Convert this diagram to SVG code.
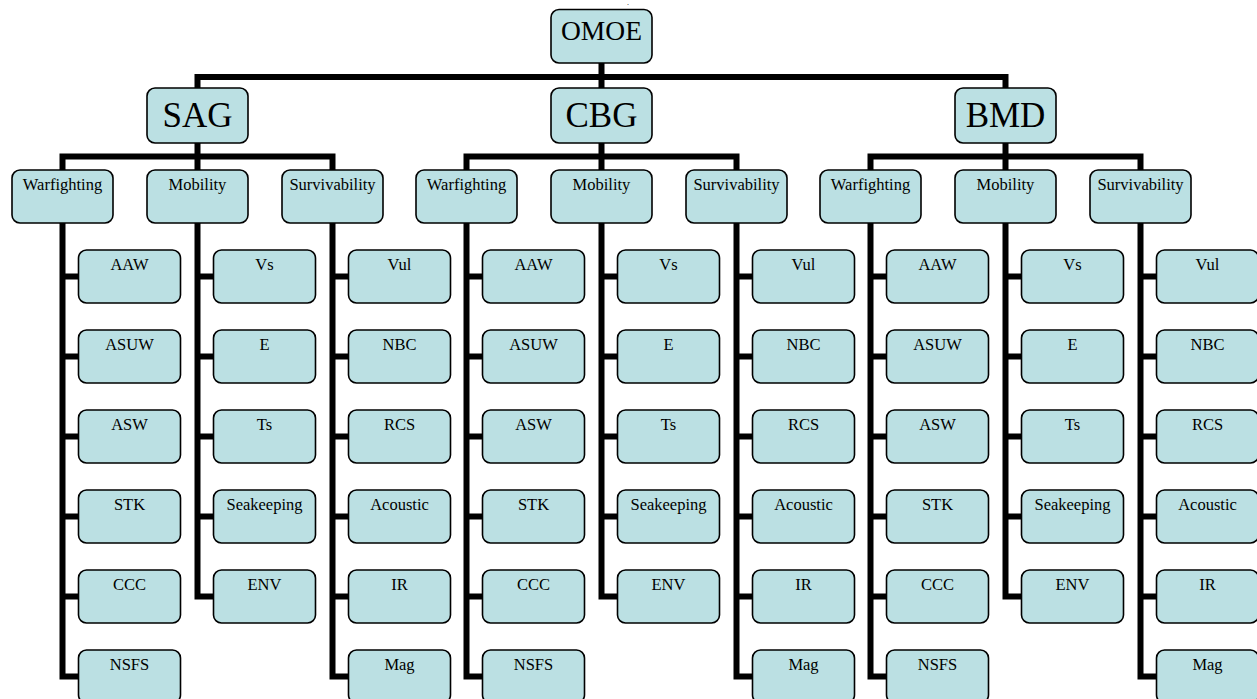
<svg xmlns="http://www.w3.org/2000/svg" width="1257" height="699" viewBox="0 0 1257 699">
<style>
.box{fill:#BBE0E3;stroke:#000;stroke-width:1.6}
.conn{fill:none;stroke:#000;stroke-width:6;stroke-linejoin:miter;stroke-linecap:butt}
text{font-family:"Liberation Serif","Times New Roman",serif;fill:#000;text-anchor:middle}
.t0{font-size:27.5px}
.t1{font-size:35px}
.t2{font-size:16.5px}
</style>
<rect width="1257" height="699" fill="#fff"/>
<text x="628" y="4.5" style="font-size:8px">.</text>
<g id="connectors" class="conn">
<path d="M601.5 63 V88 M197.5 88 V77 H1005.5 V88"/>
<path d="M197.5 143 V170 M62.5 170 V156.5 H332.5 V170"/>
<path d="M601.5 143 V170 M466.5 170 V156.5 H736.5 V170"/>
<path d="M1005.5 143 V170 M870.5 170 V156.5 H1140.5 V170"/>
<path d="M62.5 223 V676.5 H78.5 M62.5 276.5 H78.5 M62.5 356.5 H78.5 M62.5 436.5 H78.5 M62.5 516.5 H78.5 M62.5 596.5 H78.5"/>
<path d="M197.5 223 V596.5 H213.5 M197.5 276.5 H213.5 M197.5 356.5 H213.5 M197.5 436.5 H213.5 M197.5 516.5 H213.5"/>
<path d="M332.5 223 V676.5 H348.5 M332.5 276.5 H348.5 M332.5 356.5 H348.5 M332.5 436.5 H348.5 M332.5 516.5 H348.5 M332.5 596.5 H348.5"/>
<path d="M466.5 223 V676.5 H482.5 M466.5 276.5 H482.5 M466.5 356.5 H482.5 M466.5 436.5 H482.5 M466.5 516.5 H482.5 M466.5 596.5 H482.5"/>
<path d="M601.5 223 V596.5 H617.5 M601.5 276.5 H617.5 M601.5 356.5 H617.5 M601.5 436.5 H617.5 M601.5 516.5 H617.5"/>
<path d="M736.5 223 V676.5 H752.5 M736.5 276.5 H752.5 M736.5 356.5 H752.5 M736.5 436.5 H752.5 M736.5 516.5 H752.5 M736.5 596.5 H752.5"/>
<path d="M870.5 223 V676.5 H886.5 M870.5 276.5 H886.5 M870.5 356.5 H886.5 M870.5 436.5 H886.5 M870.5 516.5 H886.5 M870.5 596.5 H886.5"/>
<path d="M1005.5 223 V596.5 H1021.5 M1005.5 276.5 H1021.5 M1005.5 356.5 H1021.5 M1005.5 436.5 H1021.5 M1005.5 516.5 H1021.5"/>
<path d="M1140.5 223 V676.5 H1156.5 M1140.5 276.5 H1156.5 M1140.5 356.5 H1156.5 M1140.5 436.5 H1156.5 M1140.5 516.5 H1156.5 M1140.5 596.5 H1156.5"/>
</g>
<g id="omoe"><rect class="box" x="551" y="9.5" width="101" height="53.5" rx="8"/><text class="t0" x="601.5" y="40">OMOE</text></g>
<g id="sag"><rect class="box" x="147" y="88" width="101" height="55" rx="8"/><text class="t1" x="197.5" y="127">SAG</text></g>
<g id="cbg"><rect class="box" x="551" y="88" width="101" height="55" rx="8"/><text class="t1" x="601.5" y="127">CBG</text></g>
<g id="bmd"><rect class="box" x="955" y="88" width="101" height="55" rx="8"/><text class="t1" x="1005.5" y="127">BMD</text></g>

<g id="sag-warfighting"><rect class="box" x="12" y="170" width="101" height="53" rx="8"/><text class="t2" x="62.5" y="190">Warfighting</text></g>
<g id="sag-mobility"><rect class="box" x="147" y="170" width="101" height="53" rx="8"/><text class="t2" x="197.5" y="190">Mobility</text></g>
<g id="sag-survivability"><rect class="box" x="282" y="170" width="101" height="53" rx="8"/><text class="t2" x="332.5" y="190">Survivability</text></g>
<g id="cbg-warfighting"><rect class="box" x="416" y="170" width="101" height="53" rx="8"/><text class="t2" x="466.5" y="190">Warfighting</text></g>
<g id="cbg-mobility"><rect class="box" x="551" y="170" width="101" height="53" rx="8"/><text class="t2" x="601.5" y="190">Mobility</text></g>
<g id="cbg-survivability"><rect class="box" x="686" y="170" width="101" height="53" rx="8"/><text class="t2" x="736.5" y="190">Survivability</text></g>
<g id="bmd-warfighting"><rect class="box" x="820" y="170" width="101" height="53" rx="8"/><text class="t2" x="870.5" y="190">Warfighting</text></g>
<g id="bmd-mobility"><rect class="box" x="955" y="170" width="101" height="53" rx="8"/><text class="t2" x="1005.5" y="190">Mobility</text></g>
<g id="bmd-survivability"><rect class="box" x="1090" y="170" width="101" height="53" rx="8"/><text class="t2" x="1140.5" y="190">Survivability</text></g>

<g id="sag-aaw"><rect class="box" x="78.5" y="250" width="102" height="53" rx="8"/><text class="t2" x="129.5" y="270">AAW</text></g>
<g id="sag-asuw"><rect class="box" x="78.5" y="330" width="102" height="53" rx="8"/><text class="t2" x="129.5" y="350">ASUW</text></g>
<g id="sag-asw"><rect class="box" x="78.5" y="410" width="102" height="53" rx="8"/><text class="t2" x="129.5" y="430">ASW</text></g>
<g id="sag-stk"><rect class="box" x="78.5" y="490" width="102" height="53" rx="8"/><text class="t2" x="129.5" y="510">STK</text></g>
<g id="sag-ccc"><rect class="box" x="78.5" y="570" width="102" height="53" rx="8"/><text class="t2" x="129.5" y="590">CCC</text></g>
<g id="sag-nsfs"><rect class="box" x="78.5" y="650" width="102" height="53" rx="8"/><text class="t2" x="129.5" y="670">NSFS</text></g>
<g id="sag-vs"><rect class="box" x="213.5" y="250" width="102" height="53" rx="8"/><text class="t2" x="264.5" y="270">Vs</text></g>
<g id="sag-e"><rect class="box" x="213.5" y="330" width="102" height="53" rx="8"/><text class="t2" x="264.5" y="350">E</text></g>
<g id="sag-ts"><rect class="box" x="213.5" y="410" width="102" height="53" rx="8"/><text class="t2" x="264.5" y="430">Ts</text></g>
<g id="sag-seakeeping"><rect class="box" x="213.5" y="490" width="102" height="53" rx="8"/><text class="t2" x="264.5" y="510">Seakeeping</text></g>
<g id="sag-env"><rect class="box" x="213.5" y="570" width="102" height="53" rx="8"/><text class="t2" x="264.5" y="590">ENV</text></g>
<g id="sag-vul"><rect class="box" x="348.5" y="250" width="102" height="53" rx="8"/><text class="t2" x="399.5" y="270">Vul</text></g>
<g id="sag-nbc"><rect class="box" x="348.5" y="330" width="102" height="53" rx="8"/><text class="t2" x="399.5" y="350">NBC</text></g>
<g id="sag-rcs"><rect class="box" x="348.5" y="410" width="102" height="53" rx="8"/><text class="t2" x="399.5" y="430">RCS</text></g>
<g id="sag-acoustic"><rect class="box" x="348.5" y="490" width="102" height="53" rx="8"/><text class="t2" x="399.5" y="510">Acoustic</text></g>
<g id="sag-ir"><rect class="box" x="348.5" y="570" width="102" height="53" rx="8"/><text class="t2" x="399.5" y="590">IR</text></g>
<g id="sag-mag"><rect class="box" x="348.5" y="650" width="102" height="53" rx="8"/><text class="t2" x="399.5" y="670">Mag</text></g>

<g id="cbg-aaw"><rect class="box" x="482.5" y="250" width="102" height="53" rx="8"/><text class="t2" x="533.5" y="270">AAW</text></g>
<g id="cbg-asuw"><rect class="box" x="482.5" y="330" width="102" height="53" rx="8"/><text class="t2" x="533.5" y="350">ASUW</text></g>
<g id="cbg-asw"><rect class="box" x="482.5" y="410" width="102" height="53" rx="8"/><text class="t2" x="533.5" y="430">ASW</text></g>
<g id="cbg-stk"><rect class="box" x="482.5" y="490" width="102" height="53" rx="8"/><text class="t2" x="533.5" y="510">STK</text></g>
<g id="cbg-ccc"><rect class="box" x="482.5" y="570" width="102" height="53" rx="8"/><text class="t2" x="533.5" y="590">CCC</text></g>
<g id="cbg-nsfs"><rect class="box" x="482.5" y="650" width="102" height="53" rx="8"/><text class="t2" x="533.5" y="670">NSFS</text></g>
<g id="cbg-vs"><rect class="box" x="617.5" y="250" width="102" height="53" rx="8"/><text class="t2" x="668.5" y="270">Vs</text></g>
<g id="cbg-e"><rect class="box" x="617.5" y="330" width="102" height="53" rx="8"/><text class="t2" x="668.5" y="350">E</text></g>
<g id="cbg-ts"><rect class="box" x="617.5" y="410" width="102" height="53" rx="8"/><text class="t2" x="668.5" y="430">Ts</text></g>
<g id="cbg-seakeeping"><rect class="box" x="617.5" y="490" width="102" height="53" rx="8"/><text class="t2" x="668.5" y="510">Seakeeping</text></g>
<g id="cbg-env"><rect class="box" x="617.5" y="570" width="102" height="53" rx="8"/><text class="t2" x="668.5" y="590">ENV</text></g>
<g id="cbg-vul"><rect class="box" x="752.5" y="250" width="102" height="53" rx="8"/><text class="t2" x="803.5" y="270">Vul</text></g>
<g id="cbg-nbc"><rect class="box" x="752.5" y="330" width="102" height="53" rx="8"/><text class="t2" x="803.5" y="350">NBC</text></g>
<g id="cbg-rcs"><rect class="box" x="752.5" y="410" width="102" height="53" rx="8"/><text class="t2" x="803.5" y="430">RCS</text></g>
<g id="cbg-acoustic"><rect class="box" x="752.5" y="490" width="102" height="53" rx="8"/><text class="t2" x="803.5" y="510">Acoustic</text></g>
<g id="cbg-ir"><rect class="box" x="752.5" y="570" width="102" height="53" rx="8"/><text class="t2" x="803.5" y="590">IR</text></g>
<g id="cbg-mag"><rect class="box" x="752.5" y="650" width="102" height="53" rx="8"/><text class="t2" x="803.5" y="670">Mag</text></g>

<g id="bmd-aaw"><rect class="box" x="886.5" y="250" width="102" height="53" rx="8"/><text class="t2" x="937.5" y="270">AAW</text></g>
<g id="bmd-asuw"><rect class="box" x="886.5" y="330" width="102" height="53" rx="8"/><text class="t2" x="937.5" y="350">ASUW</text></g>
<g id="bmd-asw"><rect class="box" x="886.5" y="410" width="102" height="53" rx="8"/><text class="t2" x="937.5" y="430">ASW</text></g>
<g id="bmd-stk"><rect class="box" x="886.5" y="490" width="102" height="53" rx="8"/><text class="t2" x="937.5" y="510">STK</text></g>
<g id="bmd-ccc"><rect class="box" x="886.5" y="570" width="102" height="53" rx="8"/><text class="t2" x="937.5" y="590">CCC</text></g>
<g id="bmd-nsfs"><rect class="box" x="886.5" y="650" width="102" height="53" rx="8"/><text class="t2" x="937.5" y="670">NSFS</text></g>
<g id="bmd-vs"><rect class="box" x="1021.5" y="250" width="102" height="53" rx="8"/><text class="t2" x="1072.5" y="270">Vs</text></g>
<g id="bmd-e"><rect class="box" x="1021.5" y="330" width="102" height="53" rx="8"/><text class="t2" x="1072.5" y="350">E</text></g>
<g id="bmd-ts"><rect class="box" x="1021.5" y="410" width="102" height="53" rx="8"/><text class="t2" x="1072.5" y="430">Ts</text></g>
<g id="bmd-seakeeping"><rect class="box" x="1021.5" y="490" width="102" height="53" rx="8"/><text class="t2" x="1072.5" y="510">Seakeeping</text></g>
<g id="bmd-env"><rect class="box" x="1021.5" y="570" width="102" height="53" rx="8"/><text class="t2" x="1072.5" y="590">ENV</text></g>
<g id="bmd-vul"><rect class="box" x="1156.5" y="250" width="102" height="53" rx="8"/><text class="t2" x="1207.5" y="270">Vul</text></g>
<g id="bmd-nbc"><rect class="box" x="1156.5" y="330" width="102" height="53" rx="8"/><text class="t2" x="1207.5" y="350">NBC</text></g>
<g id="bmd-rcs"><rect class="box" x="1156.5" y="410" width="102" height="53" rx="8"/><text class="t2" x="1207.5" y="430">RCS</text></g>
<g id="bmd-acoustic"><rect class="box" x="1156.5" y="490" width="102" height="53" rx="8"/><text class="t2" x="1207.5" y="510">Acoustic</text></g>
<g id="bmd-ir"><rect class="box" x="1156.5" y="570" width="102" height="53" rx="8"/><text class="t2" x="1207.5" y="590">IR</text></g>
<g id="bmd-mag"><rect class="box" x="1156.5" y="650" width="102" height="53" rx="8"/><text class="t2" x="1207.5" y="670">Mag</text></g>
</svg>
